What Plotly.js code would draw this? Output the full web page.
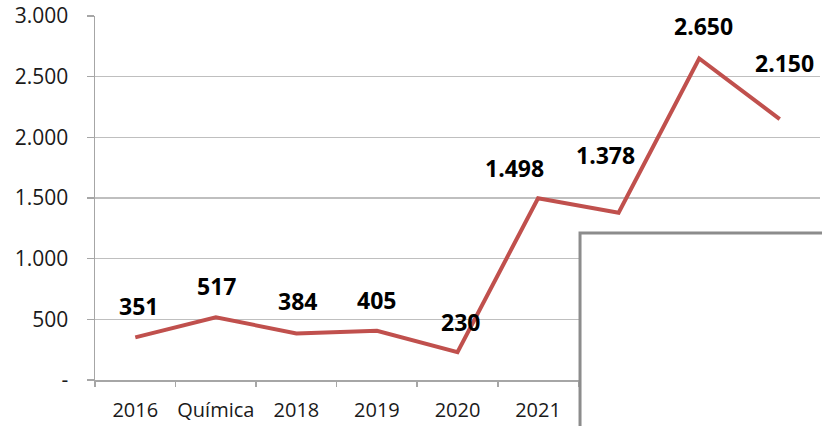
<!DOCTYPE html>
<html>
<head>
<meta charset="utf-8">
<script src="https://cdn.plot.ly/plotly-3.0.1.min.js"></script>
<style>html,body{margin:0;padding:0;background:#fff;}#chart{width:822px;height:426px;}</style>
</head>
<body>
<div id="chart"></div>
<script>
var categories = ['2016', 'Química', '2018', '2019', '2020', '2021', '2022', '2023', '2024'];
var values = [351, 517, 384, 405, 230, 1498, 1378, 2650, 2150];
var yTickValues = [0, 500, 1000, 1500, 2000, 2500, 3000];

// label placement offsets (style only, in pixels)
var labelDx = [3, 1, 1, 0, 3, -24, -13, 4, 5];
var labelDy = [31, 31, 32, 31, 30, 30, 58, 32, 56];

function fmt(v) {
  if (v === 0) return '-';
  var s = String(Math.round(v));
  return s.replace(/\B(?=(\d{3})+(?!\d))/g, '.');
}

var trace = {
  x: categories,
  y: values,
  type: 'scatter',
  mode: 'lines',
  line: {color: '#c0504d', width: 4},
  hoverinfo: 'skip'
};

var annotations = values.map(function (v, i) {
  return {
    x: i, y: v, xref: 'x', yref: 'y',
    text: fmt(v), showarrow: false,
    xshift: labelDx[i], yshift: labelDy[i],
    font: {family: 'Open Sans', size: 23, color: '#000', weight: 'bold'}
  };
});

var layout = {
  width: 822, height: 426,
  margin: {l: 95, r: 2, t: 16, b: 46},
  paper_bgcolor: '#fff', plot_bgcolor: '#fff',
  showlegend: false,
  font: {family: 'Open Sans', size: 20, color: '#1a1a1a'},
  xaxis: {
    type: 'category',
    range: [-0.5, 8.5],
    tickson: 'boundaries',
    tickangle: 0,
    automargin: false,
    ticks: 'outside', ticklen: 5, tickcolor: '#a6a6a6', tickwidth: 1.5,
    showgrid: false,
    showline: true, linecolor: '#a6a6a6', linewidth: 1.5,
    tickfont: {family: 'Open Sans', size: 20, color: '#1a1a1a'},
    ticklabelstandoff: 11,
    fixedrange: true
  },
  yaxis: {
    range: [0, 3000],
    tickvals: yTickValues,
    ticktext: yTickValues.map(fmt),
    ticks: 'outside', ticklen: 7, tickcolor: '#a6a6a6', tickwidth: 1.5,
    showgrid: true, gridcolor: '#bfbfbf', gridwidth: 1.5,
    showline: true, linecolor: '#a6a6a6', linewidth: 1.5,
    zeroline: false,
    automargin: false,
    tickfont: {family: 'Open Sans', size: 21, color: '#1a1a1a'},
    ticklabelstandoff: 14,
    fixedrange: true
  },
  annotations: annotations,
  shapes: [{
    type: 'rect', xref: 'paper', yref: 'paper', layer: 'above',
    x0: 0.669, x1: 1.05, y0: -0.3, y1: 0.4038,
    fillcolor: '#ffffff',
    line: {color: '#8c8c8c', width: 3}
  }]
};

Plotly.newPlot('chart', [trace], layout, {displayModeBar: false, staticPlot: true});
</script>
</body>
</html>
